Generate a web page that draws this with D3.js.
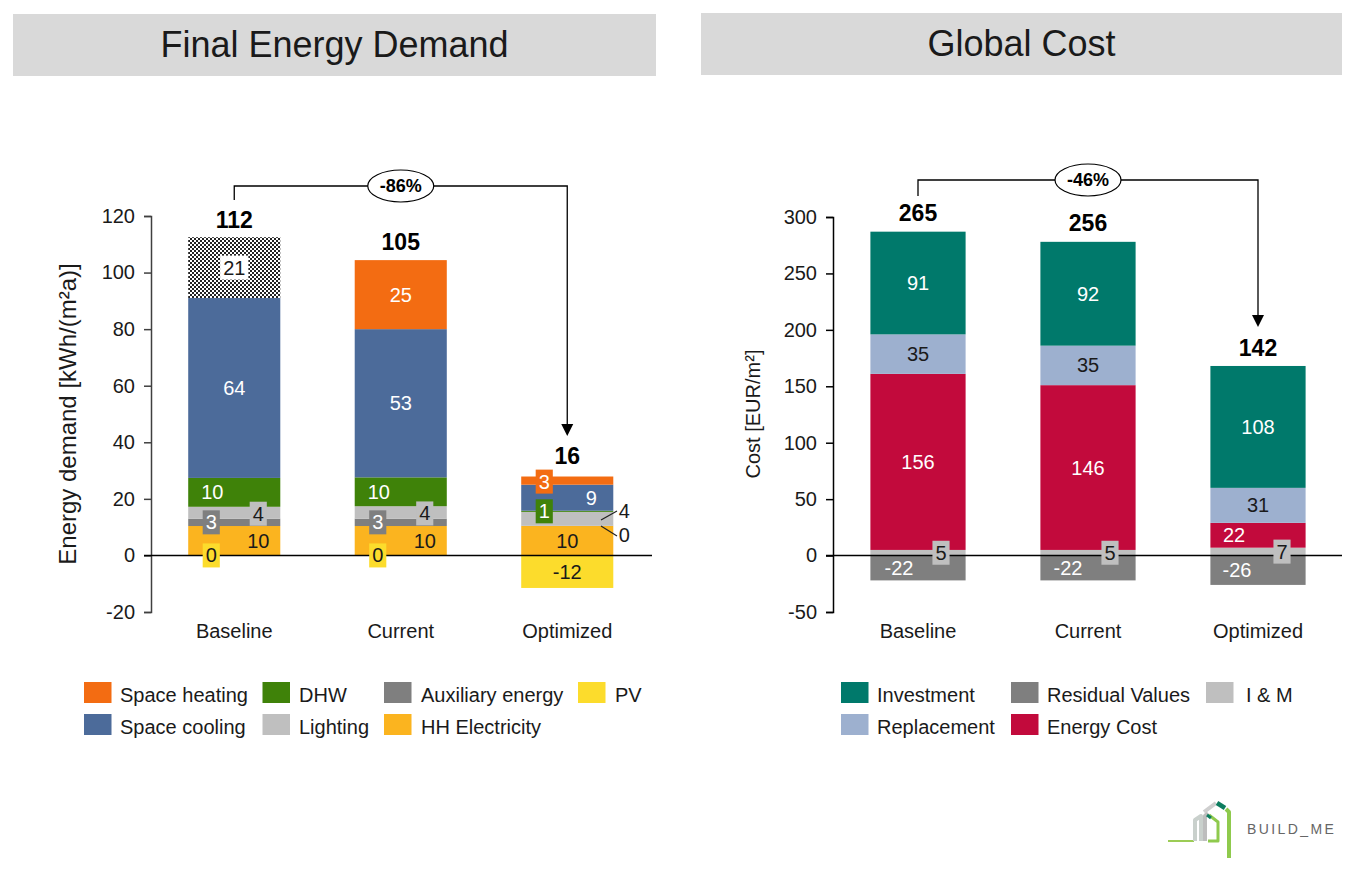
<!DOCTYPE html>
<html>
<head>
<meta charset="utf-8">
<script src="https://cdn.jsdelivr.net/npm/d3@7"></script>
<style>
body{margin:0;background:#fff}
text{font-family:"Liberation Sans",Arial,sans-serif;fill:#1a1a1a}
</style>
</head>
<body>
<svg id="chart"></svg>
<script>
// values (segment heights), labels as printed
let categories = ["Baseline","Current","Optimized"];

let energyTitle = "Final Energy Demand";
let energyAxisTitle = "Energy demand [kWh/(m²a)]";
let energyTicks = [-20,0,20,40,60,80,100,120];
let energyTotals = [112,105,16];
let energyChange = "-86%";

let hhElectricity = [10.4,10.4,10.4];
let auxiliary = [2.6,2.6,0.1];
let lighting = [4.2,4.4,4.9];
let dhw = [10.2,10.2,0.4];
let spaceCooling = [63.6,52.4,9.2];
let spaceHeating = [21.5,24.4,2.9];
let pv = [0,0,-11.5];

let hhLabels = ["10","10","10"];
let auxLabels = ["3","3","0"];
let lightingLabels = ["4","4","4"];
let dhwLabels = ["10","10","1"];
let coolingLabels = ["64","53","9"];
let heatingLabels = ["21","25","3"];
let pvLabels = ["0","0","-12"];

let costTitle = "Global Cost";
let costAxisTitle = "Cost [EUR/m²]";
let costTicks = [-50,0,50,100,150,200,250,300];
let costTotals = [265,256,142];
let costChange = "-46%";

let imCost = [5,5,7];
let energyCost = [156,146,22];
let replacement = [35,35,31];
let investment = [91,92,108];
let residual = [-22,-22,-26];

let width = 1360;
let height = 873;

let svg = d3.select("#chart").attr("width",width).attr("height",height).style("display","block");

let defs = svg.append("defs");
let hatch = defs.append("pattern").attr("id","hatch").attr("patternUnits","userSpaceOnUse").attr("width",4).attr("height",4);
hatch.append("rect").attr("width",4).attr("height",4).attr("fill","#fff");
hatch.append("rect").attr("width",2).attr("height",2).attr("fill","#222");
hatch.append("rect").attr("x",2).attr("y",2).attr("width",2).attr("height",2).attr("fill","#222");
defs.append("filter").attr("id","soft").append("feGaussianBlur").attr("stdDeviation",0.6);

let drawHeader = (x,y,w,h,title) => {
    svg.append("rect").attr("x",x).attr("y",y).attr("width",w).attr("height",h).attr("fill","#d9d9d9");
    svg.append("text").attr("x",x+w/2).attr("y",y+h/2+12).attr("text-anchor","middle")
        .style("font-size","36px").text(title);
}

let drawChart = (cfg) => {
    let g = svg.append("g");

    let xScale = d3.scaleBand().domain(categories).range(cfg.xRange)
        .paddingInner(cfg.inner).paddingOuter(cfg.inner/2);
    let yScale = d3.scaleLinear().domain(cfg.yDomain).range(cfg.yRange);

    let table = categories.map((c,i) => {
        let row = {category:c};
        cfg.series.forEach(s => row[s.name] = s.values[i]);
        return row;
    });
    let stacked = d3.stack().keys(cfg.series.map(s => s.name)).offset(d3.stackOffsetDiverging)(table);

    stacked.forEach((layer,k) => {
        let s = cfg.series[k];
        g.append("g").selectAll("rect").data(layer).enter().append("rect")
            .attr("x",d => xScale(d.data.category))
            .attr("width",xScale.bandwidth())
            .attr("y",d => yScale(d[1]))
            .attr("height",d => yScale(d[0])-yScale(d[1]))
            .attr("fill",(d,i) => s.hatched && s.hatched[i] ? "url(#hatch)" : s.color);
    });

    // axes
    let yAxis = d3.axisLeft(yScale).tickValues(cfg.ticks).tickSize(7).tickPadding(9).tickFormat(d => String(d));
    let yG = g.append("g").attr("transform","translate("+cfg.xRange[0]+",0)").call(yAxis);
    yG.selectAll("path,line").attr("stroke",cfg.axisColor).attr("stroke-width",1.5);
    yG.selectAll("text").style("font-size","20px").style("font-family",null);

    g.append("line").attr("x1",cfg.xRange[0]-7).attr("x2",cfg.zeroEnd)
        .attr("y1",yScale(0)).attr("y2",yScale(0)).attr("stroke","#000").attr("stroke-width",1.5);

    g.append("g").selectAll("text").data(categories).enter().append("text")
        .attr("x",d => xScale(d)+xScale.bandwidth()/2)
        .attr("y",cfg.catY).attr("text-anchor","middle").style("font-size","20px").text(d => d);

    g.append("text").attr("transform","translate("+cfg.axisTitleX+","+cfg.axisTitleY+") rotate(-90)")
        .attr("text-anchor","middle").style("font-size",cfg.axisTitleSize).text(cfg.axisTitle);

    // segment labels
    stacked.forEach((layer,k) => {
        let s = cfg.series[k];
        layer.forEach((d,i) => {
            let cx = xScale(d.data.category)+xScale.bandwidth()/2+s.dx[i];
            let cy = (yScale(d[0])+yScale(d[1]))/2+(s.dy ? s.dy[i] : 0);
            let lg = g.append("g");
            let t = lg.append("text").attr("x",cx).attr("y",cy+7).attr("text-anchor","middle")
                .style("font-size","20px").style("fill",s.outside && s.outside[i] ? "#1a1a1a" : s.textColor).text(s.labels[i]);
            if (s.boxed && s.boxed[i]) {
                let w = t.node().getBBox().width+6;
                let fill = s.hatched && s.hatched[i] ? "#fff" : s.color;
                if (s.hatched && s.hatched[i]) t.style("fill","#1a1a1a");
                lg.insert("rect","text").attr("x",cx-w/2).attr("y",cy-12).attr("width",w).attr("height",24).attr("fill",fill);
            }
        });
    });

    // totals
    g.append("g").selectAll("text").data(cfg.totals).enter().append("text")
        .attr("x",(d,i) => xScale(categories[i])+xScale.bandwidth()/2)
        .attr("y",(d,i) => {
            let top = d3.max(stacked,l => l[i][1]);
            return yScale(top)-cfg.totalGap[i];
        })
        .attr("text-anchor","middle").style("font-size","23px").style("font-weight","bold").style("fill","#000").text(d => d);

    // bracket with change bubble
    let x0 = xScale(categories[0])+xScale.bandwidth()/2;
    let x2 = xScale(categories[2])+xScale.bandwidth()/2;
    let x1 = xScale(categories[1])+xScale.bandwidth()/2;
    let b = cfg.bracket;
    g.append("path").attr("fill","none").attr("stroke","#000").attr("stroke-width",1.3)
        .attr("d",d3.line()([[x0,b.startY],[x0,b.y],[x2,b.y],[x2,b.endY-10]]));
    g.append("path").attr("fill","#000")
        .attr("d",d3.line()([[x2-6,b.endY-12],[x2+6,b.endY-12],[x2,b.endY]])+"Z");
    g.append("ellipse").attr("cx",x1).attr("cy",b.y).attr("rx",33).attr("ry",16)
        .attr("fill","#fff").attr("stroke","#000").attr("stroke-width",1.2);
    g.append("text").attr("x",x1).attr("y",b.y+6).attr("text-anchor","middle")
        .style("font-size","18px").style("font-weight","bold").style("fill","#000").text(cfg.change);

    // legend
    cfg.legend.forEach(l => {
        g.append("rect").attr("x",l.x).attr("y",l.y).attr("width",27.5).attr("height",21).attr("fill",l.color);
        g.append("text").attr("x",l.textX).attr("y",l.y+20).style("font-size","20px").text(l.name);
    });
}

drawHeader(13,14,643,62,energyTitle);
drawHeader(701,13,641,62,costTitle);

let cHeating="#f36c12", cCooling="#4c6b9a", cDhw="#3f8209", cLight="#bfbfbf", cAux="#7f7f7f", cHh="#fbb41f", cPv="#fcdc2c";
let cInvest="#00796b", cReplace="#9db0cf", cEnergy="#c20a3c";

drawChart({
    xRange:[151,650.5], inner:0.447, yDomain:[-20,120], yRange:[612,216],
    ticks:energyTicks, axisColor:"#404040", zeroEnd:652, catY:638,
    axisTitle:energyAxisTitle, axisTitleX:76, axisTitleY:414, axisTitleSize:"24px",
    totals:energyTotals, totalGap:[9,10,13], change:energyChange,
    bracket:{startY:200,y:186,endY:436},
    series:[
        {name:"HH Electricity",values:hhElectricity,labels:hhLabels,color:cHh,textColor:"#1a1a1a",dx:[24,24,0]},
        {name:"Auxiliary energy",values:auxiliary,labels:auxLabels,color:cAux,textColor:"#fff",dx:[-23,-23,57],dy:[0,0,9],boxed:[1,1,0],outside:[0,0,1]},
        {name:"Lighting",values:lighting,labels:lightingLabels,color:cLight,textColor:"#1a1a1a",dx:[24,24,57],dy:[1,1,-8],boxed:[1,1,0]},
        {name:"DHW",values:dhw,labels:dhwLabels,color:cDhw,textColor:"#fff",dx:[-22,-22,-23],boxed:[0,0,1]},
        {name:"Space cooling",values:spaceCooling,labels:coolingLabels,color:cCooling,textColor:"#fff",dx:[0,0,24]},
        {name:"Space heating",values:spaceHeating,labels:heatingLabels,color:cHeating,textColor:"#fff",dx:[0,0,-23],dy:[0,0,1],boxed:[1,0,1],hatched:[1,0,0]},
        {name:"PV",values:pv,labels:pvLabels,color:cPv,textColor:"#1a1a1a",dx:[-23,-23,0],boxed:[1,1,0]}
    ],
    legend:[
        {name:"Space heating",color:cHeating,x:84,textX:120,y:682},
        {name:"DHW",color:cDhw,x:262.5,textX:299,y:682},
        {name:"Auxiliary energy",color:cAux,x:384,textX:421,y:682},
        {name:"PV",color:cPv,x:578,textX:615,y:682},
        {name:"Space cooling",color:cCooling,x:84,textX:120,y:714},
        {name:"Lighting",color:cLight,x:262.5,textX:299,y:714},
        {name:"HH Electricity",color:cHh,x:384,textX:421,y:714}
    ]
});

drawChart({
    xRange:[833,1343], inner:0.44, yDomain:[-50,300], yRange:[612,217],
    ticks:costTicks, axisColor:"#000", zeroEnd:1342, catY:638,
    axisTitle:costAxisTitle, axisTitleX:760, axisTitleY:414, axisTitleSize:"20px",
    totals:costTotals, totalGap:[11,11,10], change:costChange,
    bracket:{startY:196,y:180,endY:327},
    series:[
        {name:"I & M",values:imCost,labels:["5","5","7"],color:cLight,textColor:"#1a1a1a",dx:[23,22,24],dy:[0,0,0],boxed:[1,1,1]},
        {name:"Energy Cost",values:energyCost,labels:["156","146","22"],color:cEnergy,textColor:"#fff",dx:[0,0,-24]},
        {name:"Replacement",values:replacement,labels:["35","35","31"],color:cReplace,textColor:"#1a1a1a",dx:[0,0,0]},
        {name:"Investment",values:investment,labels:["91","92","108"],color:cInvest,textColor:"#fff",dx:[0,0,0]},
        {name:"Residual Values",values:residual,labels:["-22","-22","-26"],color:cAux,textColor:"#fff",dx:[-19,-20,-21]}
    ],
    legend:[
        {name:"Investment",color:cInvest,x:841,textX:877,y:682},
        {name:"Residual Values",color:cAux,x:1011,textX:1047,y:682},
        {name:"I & M",color:cLight,x:1206,textX:1246,y:682},
        {name:"Replacement",color:cReplace,x:841,textX:877,y:714},
        {name:"Energy Cost",color:cEnergy,x:1011,textX:1047,y:714}
    ]
});

// leader lines for the two labels beside the optimized bar
svg.append("path").attr("fill","none").attr("stroke","#222").attr("stroke-width",1.2)
    .attr("d","M601,520L617,511M601,526L617,536");

// logo
let logo = svg.append("g").attr("fill","none").attr("stroke-linejoin","round").attr("filter","url(#soft)");
logo.append("path").attr("stroke","#9ccc55").attr("stroke-width",2).attr("d","M1168,841H1194");
logo.append("path").attr("stroke","#c9d0cc").attr("stroke-width",4).attr("d","M1195,841V820L1201,816V841");
logo.append("path").attr("stroke","#bdbdbd").attr("stroke-width",4).attr("d","M1205,841V816L1208,813");
logo.append("path").attr("stroke","#8fca4e").attr("stroke-width",3).attr("d","M1209,815L1218,822V841H1208");
logo.append("path").attr("stroke","#0f7d5f").attr("stroke-width",3).attr("d","M1207,815L1211,818");
logo.append("path").attr("stroke","#cfcfcf").attr("stroke-width",4).attr("d","M1204,812L1216,803");
logo.append("path").attr("stroke","#0f7d5f").attr("stroke-width",4.5).attr("d","M1217,803L1225,808");
logo.append("path").attr("stroke","#8fca4e").attr("stroke-width",4).attr("d","M1226,809L1229,812V858");
svg.append("text").attr("x",1247).attr("y",834).style("font-size","14px").style("letter-spacing","2.4px").style("fill","#666").text("BUILD_ME");
</script>
</body>
</html>
